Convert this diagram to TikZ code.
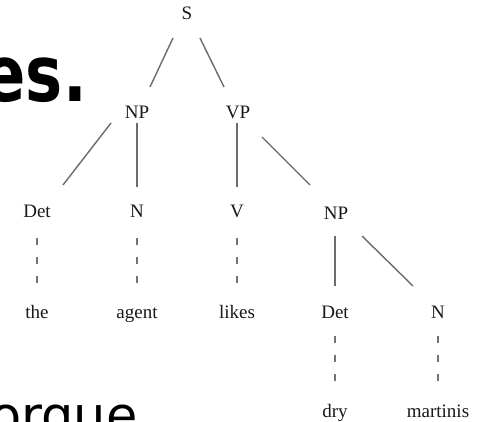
\documentclass[tikz,border=0pt]{standalone}
\usepackage{fontspec}
\setmainfont{Liberation Serif}
\newfontfamily\slidefont{DejaVu Sans}
\usetikzlibrary{calc}
\begin{document}
\begin{tikzpicture}[x=1pt,y=-1pt,
  lbl/.style={font=\fontsize{19}{22}\selectfont, text=black!90, inner sep=0pt, anchor=base},
  treeedge/.style={draw=black!58, line width=1.4pt},
  leafline/.style={draw=black!55, line width=1.3pt, dash pattern=on 7pt off 12pt},
  slidetext/.style={inner sep=0pt, text=black}]
\useasboundingbox (0,0) rectangle (479,422);
\clip (0,0) rectangle (479,422);
\fill[white] (0,0) rectangle (479,422);
% slide fragments
\node[slidetext, anchor=base east, font=\slidefont\bfseries\fontsize{78}{88}\selectfont] (es) at (87,102) {\scalebox{0.8}[1]{es.}};
\node[slidetext, anchor=base west, font=\slidefont\fontsize{51}{60}\selectfont] (og) at (-10,433) {orgue};
% tree labels
\node[lbl] (S) at (187,20) {S};
\node[lbl] (NPa) at (137,119) {NP};
\node[lbl] (VP) at (238,119) {VP};
\node[lbl] (Deta) at (37,218) {Det};
\node[lbl] (Na) at (137,218) {N};
\node[lbl] (V) at (237,218) {V};
\node[lbl] (NPb) at (336,219) {NP};
\node[lbl] (the) at (37,318) {the};
\node[lbl] (agent) at (137,318) {agent};
\node[lbl] (likes) at (237,318) {likes};
\node[lbl] (Detb) at (335,318) {Det};
\node[lbl] (Nb) at (438,318) {N};
\node[lbl] (dry) at (335,417) {dry};
\node[lbl] (martinis) at (438,417) {martinis};
% solid edges
\draw[treeedge] ([shift={(-14,18)}]S.base) -- ([shift={(13,-32)}]NPa.base);
\draw[treeedge] ([shift={(13,18)}]S.base) -- ([shift={(-14,-32)}]VP.base);
\draw[treeedge] ([shift={(-26,4)}]NPa.base) -- ([shift={(26,-33)}]Deta.base);
\draw[treeedge] ([shift={(0,4)}]NPa.base) -- ([shift={(0,-31)}]Na.base);
\draw[treeedge] ([shift={(-1,4)}]VP.base) -- ([shift={(0,-31)}]V.base);
\draw[treeedge] ([shift={(24,18)}]VP.base) -- ([shift={(-26,-34)}]NPb.base);
\draw[treeedge] ([shift={(-1,17)}]NPb.base) -- ([shift={(0,-32)}]Detb.base);
\draw[treeedge] ([shift={(26,17)}]NPb.base) -- ([shift={(-25,-32)}]Nb.base);
% dashed leaf lines
\draw[leafline] ([shift={(0,20)}]Deta.base) -- ([shift={(0,-35)}]the.base);
\draw[leafline] ([shift={(0,20)}]Na.base) -- ([shift={(0,-35)}]agent.base);
\draw[leafline] ([shift={(0,20)}]V.base) -- ([shift={(0,-35)}]likes.base);
\draw[leafline] ([shift={(0,18)}]Detb.base) -- ([shift={(0,-34)}]dry.base);
\draw[leafline] ([shift={(0,18)}]Nb.base) -- ([shift={(0,-34)}]martinis.base);
\end{tikzpicture}
\end{document}
